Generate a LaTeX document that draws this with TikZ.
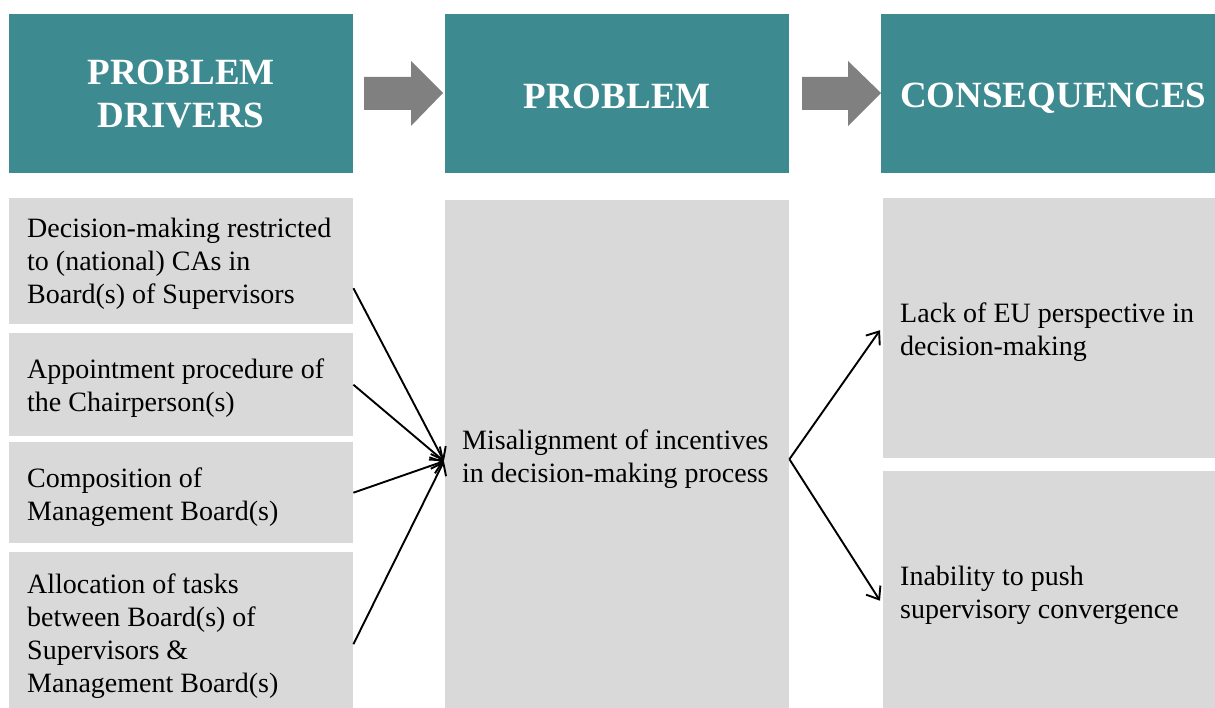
\documentclass[tikz,border=0pt]{standalone}
\usepackage{fontspec}
\setmainfont{Liberation Serif}
\usetikzlibrary{arrows.meta,calc}
\definecolor{teal1}{HTML}{3D8A90}
\definecolor{boxgray}{HTML}{D9D9D9}
\definecolor{arrgray}{HTML}{808080}
\begin{document}
\begin{tikzpicture}[x=1pt,y=-1pt,
  head/.style={fill=teal1,inner sep=0pt,anchor=north west},
  htxt/.style={text=white,font=\bfseries\fontsize{37}{43}\selectfont,align=center,inner sep=0pt},
  cell/.style={fill=boxgray,inner sep=0pt,anchor=north west},
  txt/.style={font=\fontsize{28}{33}\selectfont,align=left,inner sep=0pt,anchor=west},
  conn/.style={line width=1.9pt,-{Straight Barb[length=11pt,width=17pt,line width=1.9pt]}}]
\useasboundingbox (0,0) rectangle (1215,708);
% headers
\node[head,minimum width=344pt,minimum height=159pt] (h1) at (9,14) {};
\node[head,minimum width=344pt,minimum height=159pt] (h2) at (445,14) {};
\node[head,minimum width=334pt,minimum height=159pt] (h3) at (881,14) {};
\node[htxt] (h1t) at (h1.center) {PROBLEM\\DRIVERS};
\node[htxt] (h2t) at ([yshift=-3pt]h2.center) {PROBLEM};
\node[htxt] (h3t) at ([xshift=5pt,yshift=-4.5pt]h3.center) {CONSEQUENCES};
% big gray arrows
\fill[arrgray] (364,77) -- (411,77) -- (411,61) -- (443,93) -- (411,126) -- (411,110) -- (364,110) -- cycle;
\fill[arrgray] (802,77) -- (848,77) -- (848,61) -- (881,93) -- (848,126) -- (848,110) -- (802,110) -- cycle;
% left boxes
\node[cell,minimum width=344pt,minimum height=126pt] (A) at (9,198) {};
\node[cell,minimum width=344pt,minimum height=103pt] (B) at (9,333) {};
\node[cell,minimum width=344pt,minimum height=101pt] (C) at (9,442) {};
\node[cell,minimum width=344pt,minimum height=156pt] (D) at (9,552) {};
\node[txt] (At) at ([xshift=18pt,yshift=-3pt]A.west) {Decision-making restricted\\to (national) CAs in\\Board(s) of Supervisors};
\node[txt] (Bt) at ([xshift=18pt,yshift=-3pt]B.west) {Appointment procedure of\\the Chairperson(s)};
\node[txt] (Ct) at ([xshift=18pt,yshift=-4pt]C.west) {Composition of\\Management Board(s)};
\node[txt] (Dt) at ([xshift=18pt,yshift=-6pt]D.west) {Allocation of tasks\\between Board(s) of\\Supervisors \&\\Management Board(s)};
% middle box
\node[cell,minimum width=344pt,minimum height=508pt] (M) at (445,200) {};
\node[txt] (Mt) at ([xshift=17pt,yshift=-4.5pt]M.west) {Misalignment of incentives\\in decision-making process};
% right boxes
\node[cell,minimum width=332pt,minimum height=260pt] (R1) at (883,198) {};
\node[cell,minimum width=332pt,minimum height=237pt] (R2) at (883,471) {};
\node[txt] (R1t) at ([xshift=17pt,yshift=-3.5pt]R1.west) {Lack of EU perspective in\\decision-making};
\node[txt] (R2t) at ([xshift=17pt,yshift=-6pt]R2.west) {Inability to push\\supervisory convergence};
% connector coordinates
\coordinate (a1) at ([yshift=-27pt]A.east);
\coordinate (d1) at ([yshift=-14pt]D.east);
\coordinate (mt) at ([xshift=-1pt,yshift=-7pt]M.west);
\coordinate (ms) at ([yshift=-5pt]M.east);
\coordinate (r1) at ([xshift=-3pt,yshift=-2pt]R1.west);
\coordinate (r2) at ([xshift=-3pt,yshift=-11pt]R2.west);
\draw[conn] (a1) -- (mt);
\draw[conn] (B.east) -- (mt);
\draw[conn] (C.east) -- (mt);
\draw[conn] (d1) -- (mt);
\draw[conn] (ms) -- (r1);
\draw[conn] (ms) -- (r2);
\end{tikzpicture}
\end{document}
